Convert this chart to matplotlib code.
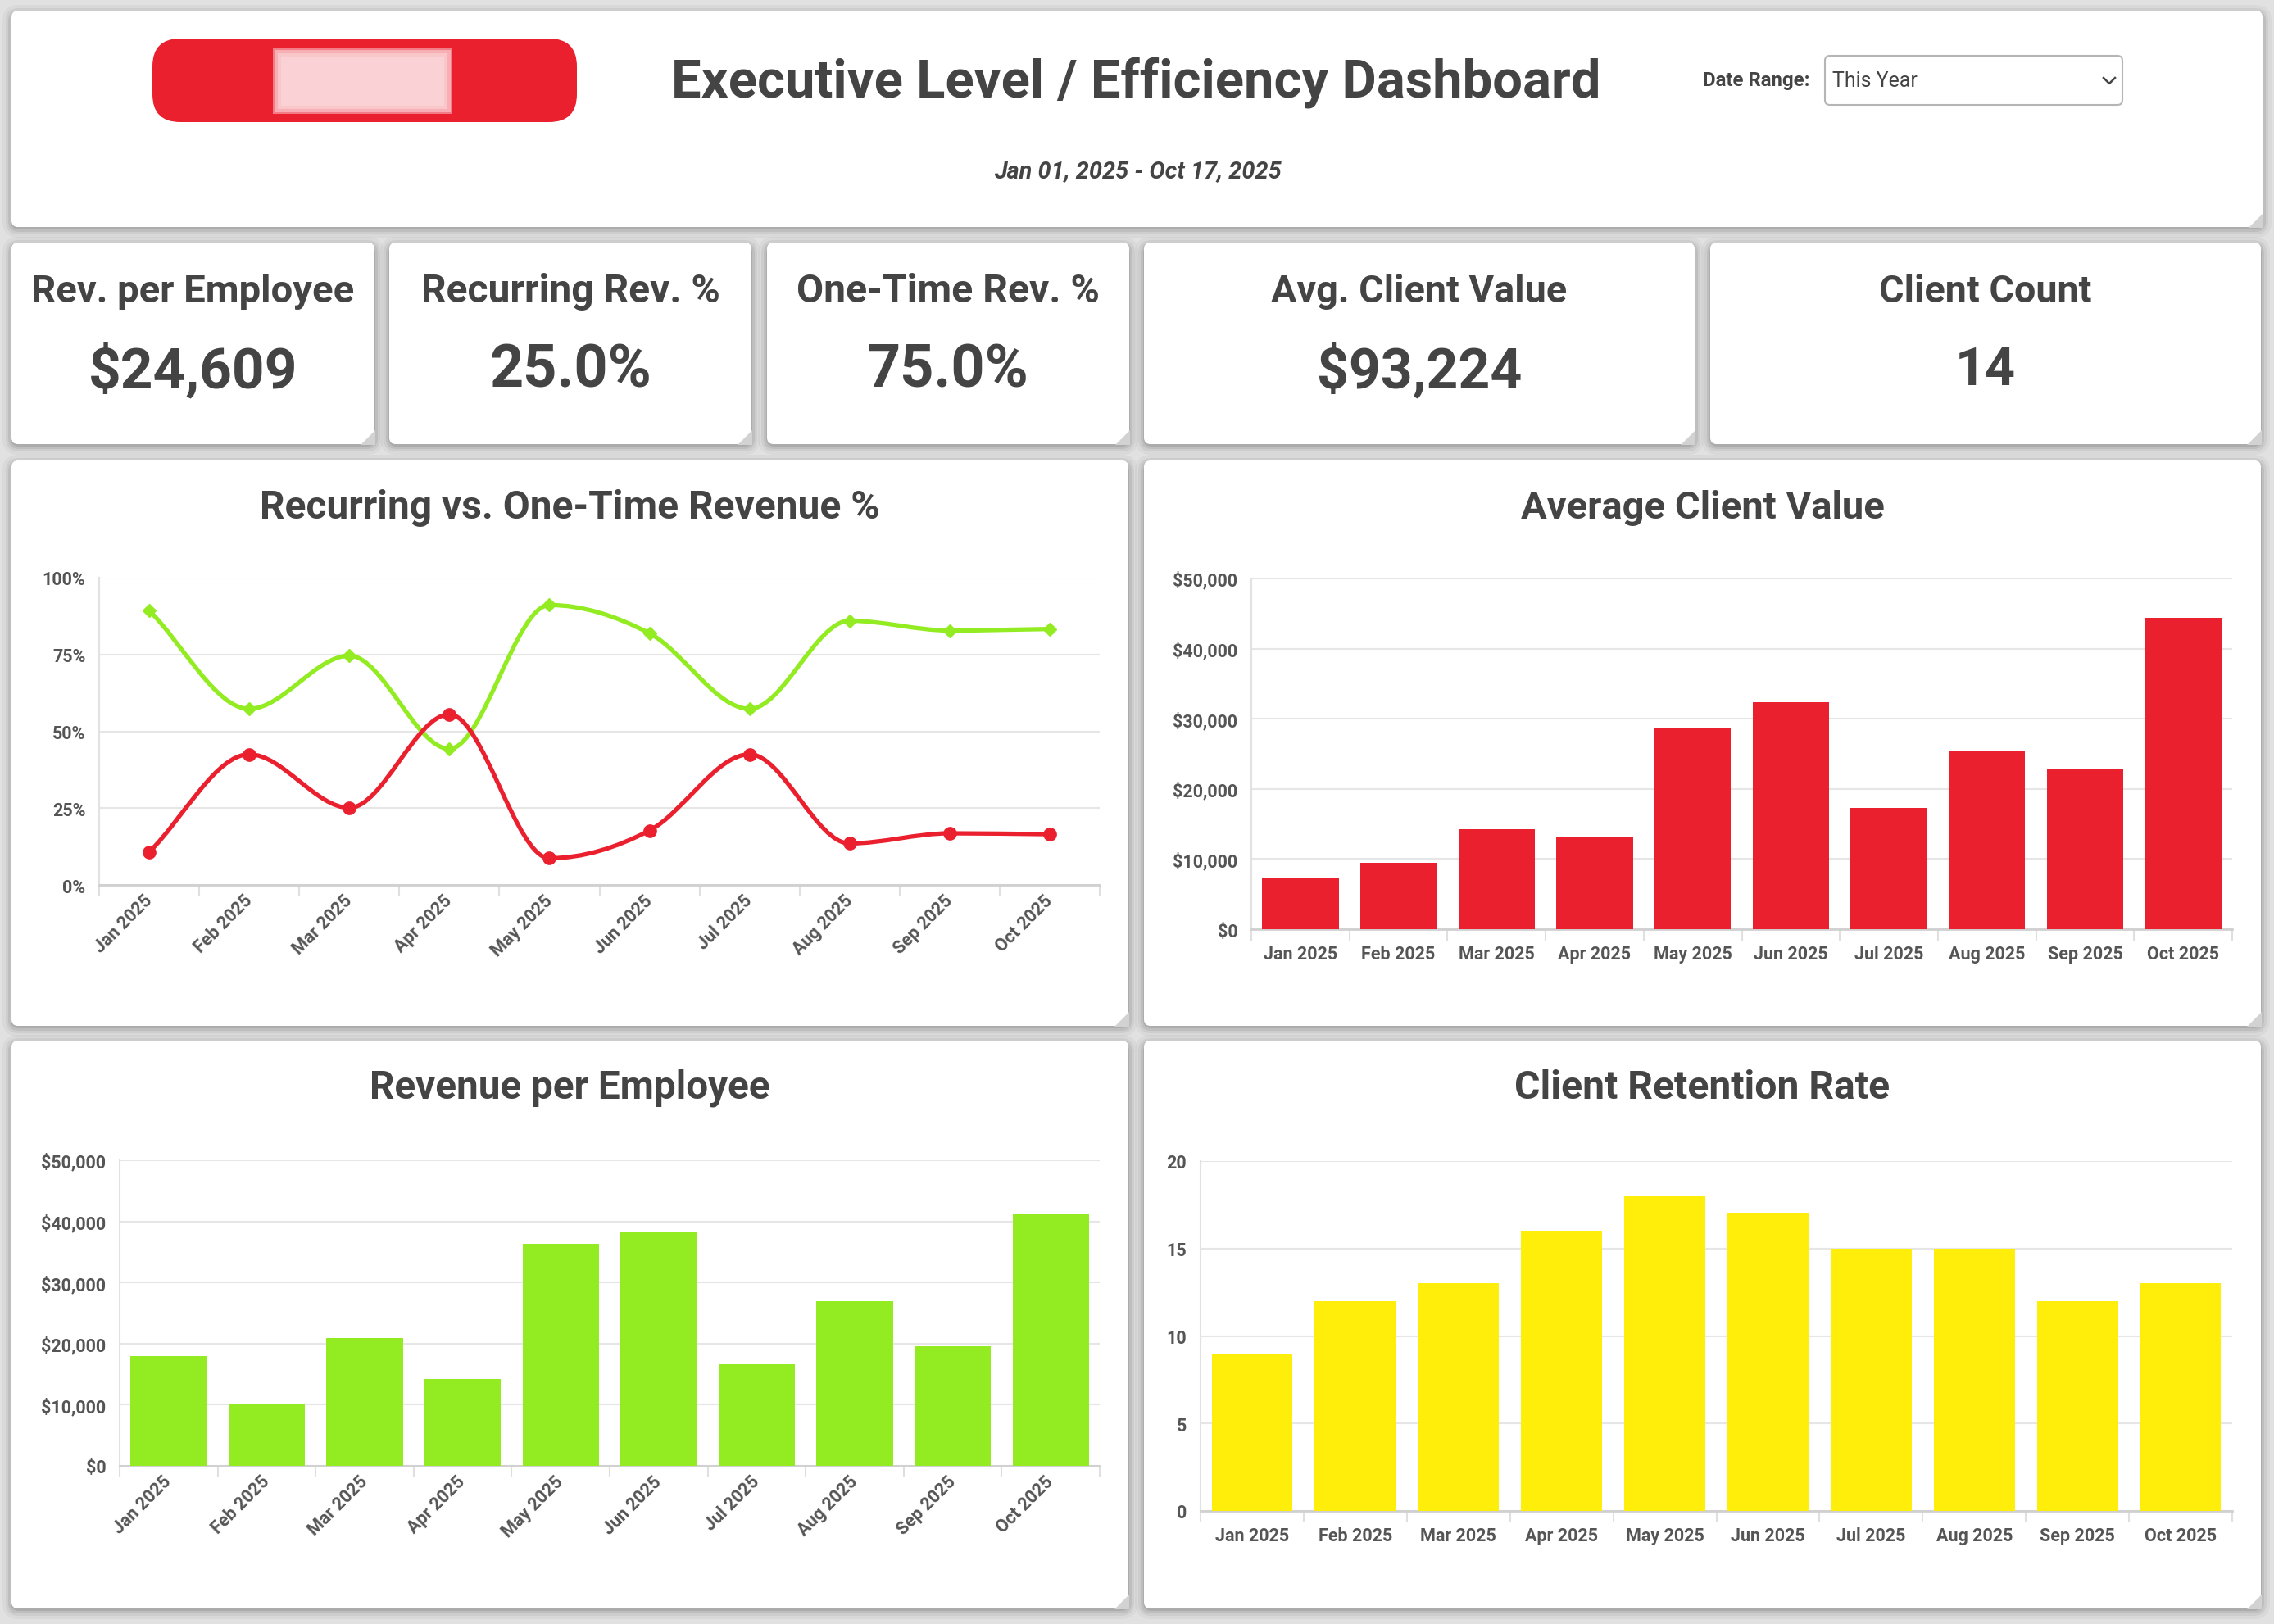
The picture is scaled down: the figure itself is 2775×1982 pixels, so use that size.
import numpy as np
import matplotlib
matplotlib.use("Agg")
import matplotlib.pyplot as plt
from matplotlib.patches import FancyBboxPatch, Polygon, PathPatch, Rectangle
from matplotlib.path import Path
from matplotlib import font_manager as fm

W, H = 2775, 1983

# ---- data ----
months = ["Jan 2025", "Feb 2025", "Mar 2025", "Apr 2025", "May 2025",
          "Jun 2025", "Jul 2025", "Aug 2025", "Sep 2025", "Oct 2025"]
recurring_pct = [10.7, 42.5, 25.1, 55.5, 8.7, 17.7, 42.5, 13.5, 16.8, 16.5]
one_time_pct = [89.3, 57.3, 74.6, 44.3, 91.1, 81.9, 57.3, 86.0, 82.8, 83.3]
avg_client_value = [7200, 9500, 14300, 13200, 28600, 32400, 17300, 25300, 22900, 44400]
rev_per_employee = [18000, 10000, 20900, 14200, 36300, 38400, 16600, 26900, 19600, 41100]
retention = [9, 12, 13, 16, 18, 17, 15, 15, 12, 13]

kpi_labels = ["Rev. per Employee", "Recurring Rev. %", "One-Time Rev. %",
              "Avg. Client Value", "Client Count"]
kpi_values = ["$24,609", "25.0%", "75.0%", "$93,224", "14"]

RED = "#EB202F"
GREEN = "#93EB22"
YELLOW = "#FFED0A"
TXT = "#444444"
TICK = "#555555"
BG = "#e1e1e1"

names = {f.name for f in fm.fontManager.ttflist}
FONT = ["Roboto", "DejaVu Sans"] if "Roboto" in names else ["DejaVu Sans"]
plt.rcParams["font.family"] = FONT

fig = plt.figure(figsize=(W / 100, H / 100), dpi=100, facecolor=BG)
renderer = fig.canvas.get_renderer()
bg = fig.add_axes([0, 0, 1, 1])
bg.set_xlim(0, W)
bg.set_ylim(H, 0)
bg.axis("off")


def fit_text(x, y, s, width, size, lo=0.75, **kw):
    # size the font so the text is about as wide as in the screenshot
    t = bg.text(x, y, s, fontsize=size, **kw)
    w = t.get_window_extent(renderer).width
    t.set_fontsize(size * min(max(width / w, lo), 1.08))
    return t


def card(x0, y0, x1, y1):
    for k, a in [(12, 0.03), (8, 0.05), (5, 0.07), (2, 0.09)]:
        bg.add_patch(FancyBboxPatch((x0 - k + 1, y0 - k + 5), x1 - x0 + 2 * k - 2, y1 - y0 + 2 * k - 4,
                                    boxstyle="round,pad=0,rounding_size=%d" % (8 + k),
                                    fc="black", ec="none", alpha=a))
    bg.add_patch(FancyBboxPatch((x0, y0), x1 - x0, y1 - y0,
                                boxstyle="round,pad=0,rounding_size=8", fc="white", ec="none"))
    s = 17
    bg.add_patch(Polygon([(x1 - s, y1 + 1), (x1 + 1, y1 - s), (x1 + 1, y1 + 1)], closed=True,
                         fc="#d2d2d2", ec="none"))


def px_axes(l, t, r, b):
    return fig.add_axes([l / W, 1 - b / H, (r - l) / W, (b - t) / H])


# ---- header ----
card(14, 14, 2761, 278)
bg.add_patch(FancyBboxPatch((186, 48), 518, 102, boxstyle="round,pad=0,rounding_size=34",
                            fc=RED, ec="none"))
for k, a in [(10, 0.22), (6, 0.3), (2, 0.38), (0, 0.42)]:
    bg.add_patch(Rectangle((333 + k, 60 + k), 219 - 2 * k, 80 - 2 * k, fc="white", ec="none", alpha=a))
fit_text(1386, 101, "Executive Level / Efficiency Dashboard", 1134, 47, ha="center", va="center",
         fontweight="bold", color=TXT)
fit_text(1388, 209, "Jan 01, 2025 - Oct 17, 2025", 350, 20, ha="center", va="center",
         fontweight="bold", style="italic", color=TXT)
fit_text(2209, 99, "Date Range:", 140, 16, ha="right", va="center", fontweight="bold", color=TXT)
bg.add_patch(FancyBboxPatch((2227, 69), 363, 60, boxstyle="round,pad=0,rounding_size=6",
                            fc="white", ec="#b5b5b5", lw=1.5))
fit_text(2236, 99, "This Year", 104, 17, ha="left", va="center", color=TXT)
bg.plot([2567, 2574, 2581], [96, 103, 96], color=TXT, lw=1.8)

# ---- KPI cards ----
kpi_x = [(14, 457), (475, 917), (936, 1378), (1396, 2068), (2087, 2759)]
label_w = [395, 366, 370, 361, 260]
value_w = [255, 200, 200, 250, 57]
for (x0, x1), lab, val, lw_, vw in zip(kpi_x, kpi_labels, kpi_values, label_w, value_w):
    card(x0, 297, x1, 543)
    cx = (x0 + x1) / 2
    fit_text(cx, 356, lab, lw_, 33, ha="center", va="center", fontweight="bold", color=TXT)
    fit_text(cx, 453, val, vw, 48, lo=0.97, ha="center", va="center", fontweight="bold", color=TXT)

# ---- chart cards ----
panels = [(14, 563, 1377, 1253, "Recurring vs. One-Time Revenue %", 757),
          (1396, 563, 2759, 1253, "Average Client Value", 444),
          (14, 1271, 1377, 1964, "Revenue per Employee", 490),
          (1396, 1271, 2759, 1964, "Client Retention Rate", 458)]
for x0, y0, x1, y1, title, tw in panels:
    card(x0, y0, x1, y1)
    fit_text((x0 + x1) / 2, y0 + 57, title, tw, 33, ha="center", va="center",
             fontweight="bold", color=TXT)


def style_axes(ax, rotate):
    n = len(months)
    ax.set_facecolor("none")
    ax.set_xlim(-0.5, n - 0.5)
    for s in ["top", "right"]:
        ax.spines[s].set_visible(False)
    ax.spines["left"].set_color("#e2e2e2")
    ax.spines["left"].set_linewidth(1.5)
    ax.spines["bottom"].set_color("#d0d0d0")
    ax.spines["bottom"].set_linewidth(2)
    ax.grid(axis="y", color="#e6e6e6", lw=1.5)
    ax.set_axisbelow(True)
    ax.set_xticks(np.arange(n))
    ax.set_xticks(np.arange(n + 1) - 0.5, minor=True)
    ax.tick_params(axis="x", which="major", length=0, pad=14 if not rotate else 11)
    ax.tick_params(axis="x", which="minor", length=10, color="#e0e0e0", width=1.5)
    ax.tick_params(axis="y", length=0, pad=12)
    if rotate:
        ax.set_xticklabels(months, rotation=45, ha="right", va="center", rotation_mode="anchor")
    else:
        ax.set_xticklabels(months)


def style_labels(ax, size=15.5):
    for t in ax.get_xticklabels() + ax.get_yticklabels():
        t.set_fontsize(size)
        t.set_fontweight("bold")
        t.set_color(TICK)


def monotone_path(xs, ys):
    # monotone cubic through the points (Fritsch-Carlson, as Chart.js draws it)
    xs = np.asarray(xs, float)
    ys = np.asarray(ys, float)
    n = len(xs)
    dk = np.diff(ys) / np.diff(xs)
    mk = np.zeros(n)
    mk[0] = dk[0]
    mk[-1] = dk[-1]
    for i in range(1, n - 1):
        if dk[i - 1] == 0 or dk[i] == 0 or np.sign(dk[i - 1]) != np.sign(dk[i]):
            mk[i] = 0
        else:
            mk[i] = (dk[i - 1] + dk[i]) / 2
    for i in range(n - 1):
        if dk[i] == 0:
            mk[i] = mk[i + 1] = 0
            continue
        a = mk[i] / dk[i]
        b = mk[i + 1] / dk[i]
        sq = a * a + b * b
        if sq > 9:
            tau = 3 / np.sqrt(sq)
            mk[i] = a * tau * dk[i]
            mk[i + 1] = b * tau * dk[i]
    verts = [(xs[0], ys[0])]
    codes = [Path.MOVETO]
    for i in range(1, n):
        dx = (xs[i] - xs[i - 1]) / 3
        verts += [(xs[i - 1] + dx, ys[i - 1] + mk[i - 1] * dx),
                  (xs[i] - dx, ys[i] - mk[i] * dx),
                  (xs[i], ys[i])]
        codes += [Path.CURVE4] * 3
    return Path(verts, codes)


x = np.arange(len(months))
money_ticks = np.arange(0, 50001, 10000)
money_labels = ["$0", "$10,000", "$20,000", "$30,000", "$40,000", "$50,000"]

# ---- line chart ----
ax1 = px_axes(121, 706, 1342, 1081)
style_axes(ax1, rotate=True)
ax1.set_ylim(0, 100)
ax1.set_yticks([0, 25, 50, 75, 100])
ax1.set_yticklabels(["0%", "25%", "50%", "75%", "100%"])
style_labels(ax1)
for vals, col, mk, ms in [(one_time_pct, GREEN, "D", 8), (recurring_pct, RED, "o", 11)]:
    ax1.add_patch(PathPatch(monotone_path(x, vals), fc="none", ec=col, lw=3.8,
                            capstyle="round", joinstyle="round", zorder=3))
    ax1.plot(x, vals, ls="none", marker=mk, ms=ms, color=col, zorder=4)

# ---- average client value ----
ax2 = px_axes(1527, 707, 2724, 1135)
style_axes(ax2, rotate=False)
ax2.bar(x, avg_client_value, width=0.78, color=RED, zorder=3)
ax2.set_ylim(0, 50000)
ax2.set_yticks(money_ticks)
ax2.set_yticklabels(money_labels)
style_labels(ax2)

# ---- revenue per employee ----
ax3 = px_axes(146, 1417, 1342, 1790)
style_axes(ax3, rotate=True)
ax3.bar(x, rev_per_employee, width=0.78, color=GREEN, zorder=3)
ax3.set_ylim(0, 50000)
ax3.set_yticks(money_ticks)
ax3.set_yticklabels(money_labels)
style_labels(ax3)

# ---- client retention ----
ax4 = px_axes(1465, 1418, 2724, 1845)
style_axes(ax4, rotate=False)
ax4.bar(x, retention, width=0.785, color=YELLOW, zorder=3)
ax4.set_ylim(0, 20)
ax4.set_yticks([0, 5, 10, 15, 20])
style_labels(ax4)

fig.savefig("out.png", dpi=100, facecolor=BG)
